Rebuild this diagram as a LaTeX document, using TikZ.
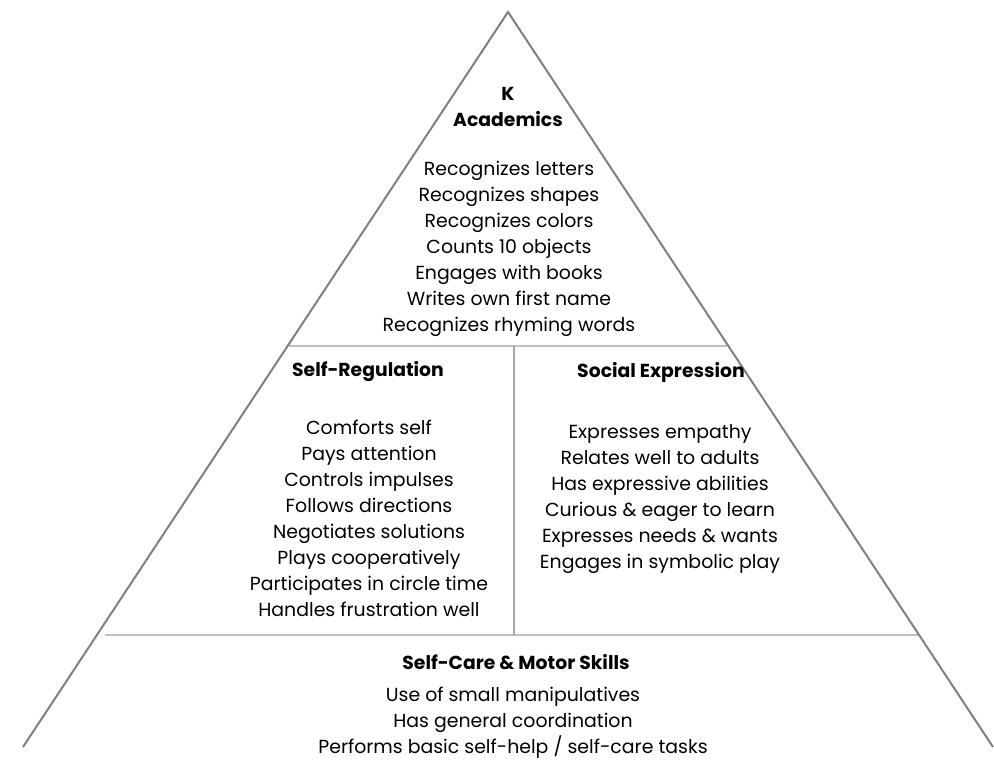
\documentclass[tikz,border=0pt]{standalone}
\usepackage{fontspec}
\setmainfont{Poppins}
\begin{document}
\begin{tikzpicture}[x=1pt,y=-1pt,
  side/.style={draw=black!50, line width=2pt},
  hline/.style={draw=black!25, line width=2pt},
  vline/.style={draw=black!35, line width=2pt},
  body/.style={align=center, font=\fontsize{18.9}{26}\selectfont, inner sep=0pt},
  head/.style={align=center, font=\fontsize{18.8}{26}\selectfont\bfseries, inner sep=0pt}]
\useasboundingbox (0,0) rectangle (994,760);
\coordinate (apex) at (508,12);
\coordinate (bl) at (23,747);
\coordinate (br) at (993,747);
\coordinate (h1l) at (289,345.5);
\coordinate (h1r) at (727,345.5);
\coordinate (h2l) at (105,635);
\coordinate (h2r) at (920,635);
\coordinate (vt) at (514,345.5);
\coordinate (vb) at (514,635);
\draw[hline] (h1l) -- (h1r);
\draw[hline] (h2l) -- (h2r);
\draw[vline] (vt) -- (vb);
\draw[side] (bl) -- (apex) -- (br);
\node[head, anchor=base] (k) at (508,100) {K};
\node[head, anchor=base] (acad) at (508,126) {Academics};
\node[body] (acadlist) at (509,249) {Recognizes letters\\Recognizes shapes\\Recognizes colors\\Counts 10 objects\\Engages with books\\Writes own first name\\Recognizes rhyming words};
\node[head] (selfreg) at (368,372) {Self-Regulation};
\node[head] (social) at (661,372) {Social Expression};
\node[body] (selfreglist) at (369,518) {Comforts self\\Pays attention\\Controls impulses\\Follows directions\\Negotiates solutions\\Plays cooperatively\\Participates in circle time\\Handles frustration well};
\node[body] (sociallist) at (660,499) {Expresses empathy\\Relates well to adults\\Has expressive abilities\\Curious \& eager to learn\\Expresses needs \& wants\\Engages in symbolic play};
\node[head] (care) at (516,662) {Self-Care \& Motor Skills};
\node[body] (carelist) at (513,723) {Use of small manipulatives\\Has general coordination\\Performs basic self-help / self-care tasks};
\end{tikzpicture}
\end{document}
